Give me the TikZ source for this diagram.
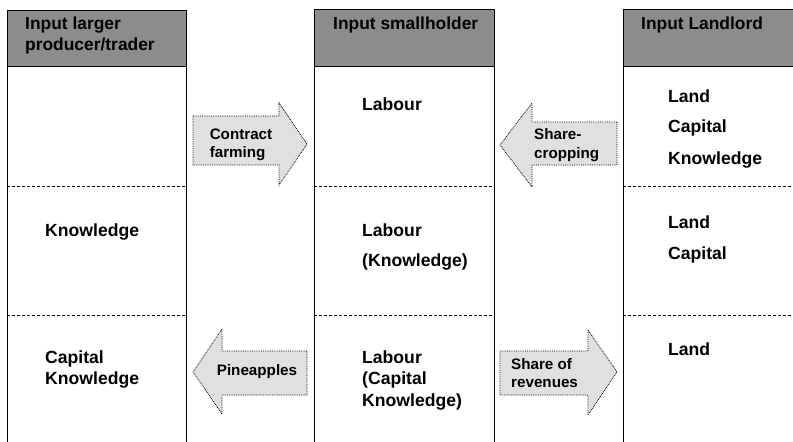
\documentclass[tikz,border=0pt]{standalone}
\usepackage{fontspec}
\setmainfont{Liberation Sans}
\usepackage{tikz}
\usetikzlibrary{positioning}

\tikzset{
	colline/.style={line width=0.9pt},
	rowsep/.style={line width=0.6pt,dash pattern=on 3pt off 2pt},
	headbox/.style={fill=black!45,draw=black,line width=0.9pt},
	blockarrow/.style={fill=black!12,draw=black,line width=0.8pt,densely dotted},
	item/.style={anchor=base west,inner sep=0pt,font=\fontsize{17.6}{20}\selectfont\bfseries},
	headtxt/.style={anchor=base west,inner sep=0pt,font=\fontsize{17.4}{20}\selectfont\bfseries},
	arrowtxt/.style={align=left,inner sep=0pt,font=\fontsize{15.2}{18.5}\selectfont\bfseries}
}

\begin{document}
\begin{tikzpicture}[x=1pt,y=-1pt]
	\useasboundingbox (0,0) rectangle (793,442);
	
	%larger producer column
	\filldraw[headbox] (7,10) rectangle (186,66);
	\draw[colline] (7,66) -- (7,442);
	\draw[colline] (186,66) -- (186,442);
	\draw[rowsep] (7,186) -- (186,186);
	\draw[rowsep] (7,315) -- (186,315);
	\node[headtxt] (H_P1) at (25,29) {Input larger};
	\node[headtxt] (H_P2) at (25,50) {producer/trader};
	\node[item] (P_K1) at (45,236) {Knowledge};
	\node[item] (P_C2) at (45,363) {Capital};
	\node[item] (P_K2) at (45,384) {Knowledge};
	
	%smallholder column
	\filldraw[headbox] (314,9) rectangle (494,66);
	\draw[colline] (314,66) -- (314,442);
	\draw[colline] (494,66) -- (494,442);
	\draw[rowsep] (314,186) -- (494,186);
	\draw[rowsep] (314,315) -- (494,315);
	\node[headtxt] (H_S) at (333,29) {Input smallholder};
	\node[item] (S_L1) at (362,110) {Labour};
	\node[item] (S_L2) at (362,236) {Labour};
	\node[item] (S_K2) at (362,266) {(Knowledge)};
	\node[item] (S_L3) at (362,363) {Labour};
	\node[item] (S_C3) at (362,384) {(Capital};
	\node[item] (S_K3) at (362,406) {Knowledge)};
	
	%landlord column
	\filldraw[headbox] (623,9) rectangle (795,66);
	\draw[colline] (623,66) -- (623,442);
	\draw[rowsep] (623,186) -- (793,186);
	\draw[rowsep] (623,315) -- (793,315);
	\node[headtxt] (H_L) at (641,29) {Input Landlord};
	\node[item] (L_L1) at (668,102) {Land};
	\node[item] (L_C1) at (668,132) {Capital};
	\node[item] (L_K1) at (668,164) {Knowledge};
	\node[item] (L_L2) at (668,228) {Land};
	\node[item] (L_C2) at (668,259) {Capital};
	\node[item] (L_L3) at (668,355) {Land};
	
	%block arrows
	\filldraw[blockarrow] (193,116) -- (279,116) -- (279,103) -- (307,144) -- (279,185) -- (279,165) -- (193,165) -- cycle;
	\node[arrowtxt] (A_CF) at (241,145) {Contract\\farming};
	\filldraw[blockarrow] (617,122) -- (532,122) -- (532,103) -- (500,145) -- (532,187) -- (532,165) -- (617,165) -- cycle;
	\node[arrowtxt,anchor=west] (A_SC) at (534,145) {Share-\\cropping};
	\filldraw[blockarrow] (307,351) -- (222,351) -- (222,329) -- (193,372) -- (222,414) -- (222,395) -- (307,395) -- cycle;
	\node[arrowtxt] (A_PA) at (257,372) {Pineapples};
	\filldraw[blockarrow] (500,351) -- (588,351) -- (588,330) -- (617,372) -- (588,415) -- (588,395) -- (500,395) -- cycle;
	\node[arrowtxt,anchor=west] (A_SR) at (511,373) {Share of\\revenues};
\end{tikzpicture}
\end{document}
